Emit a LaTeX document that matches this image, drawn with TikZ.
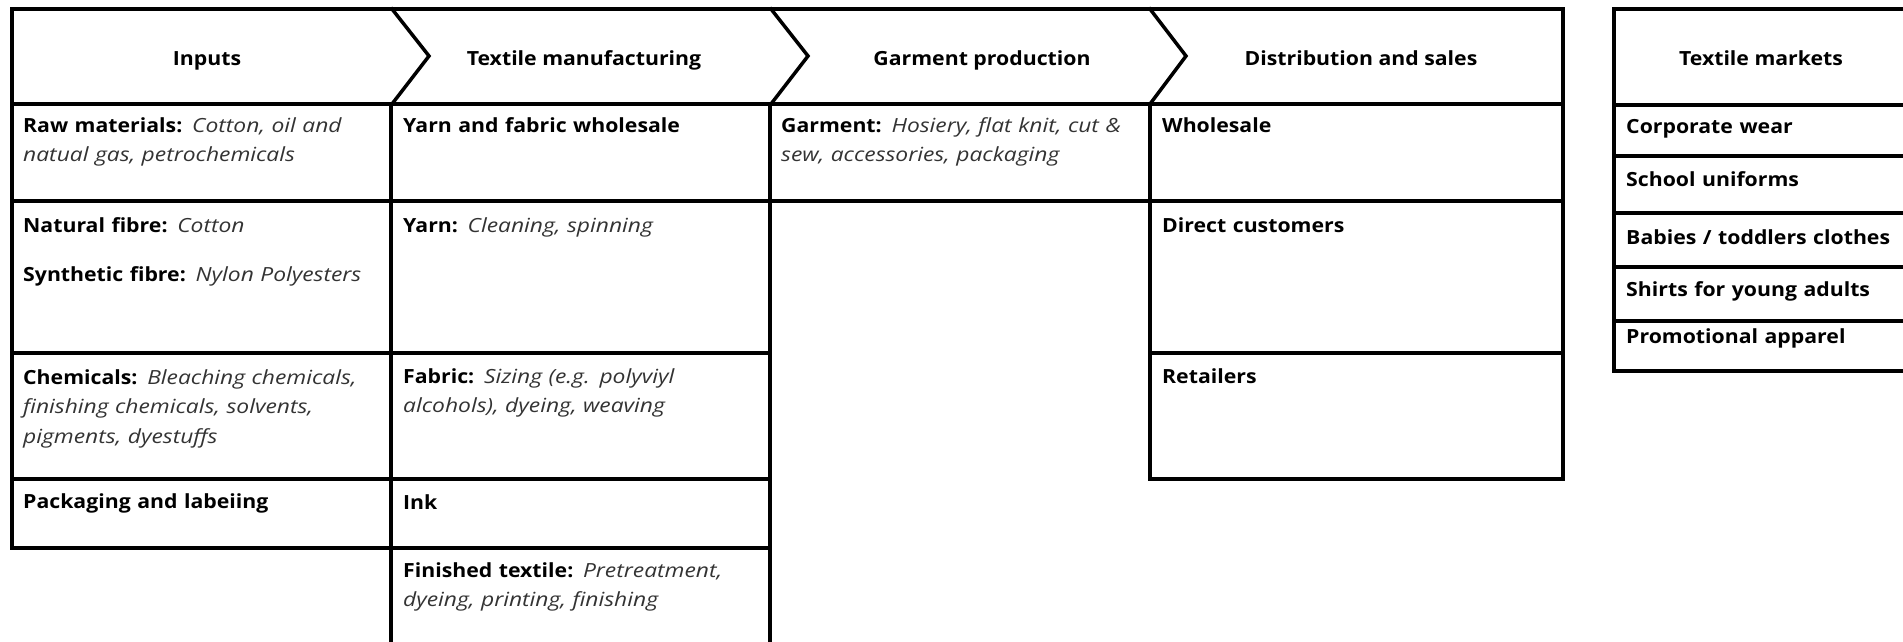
\documentclass[tikz,border=0pt]{standalone}
\usepackage{fontspec}
\setmainfont{Open Sans}[BoldFeatures={FakeStretch=1.09},ItalicFeatures={FakeStretch=1.17}]
\newcommand\fs{\fontsize{19.5}{29.5}\selectfont}
\newcommand\desc[1]{\textit{\color{black!80}#1}}
\begin{document}
\begin{tikzpicture}[x=1pt,y=-1pt,
  grid/.style={line width=3.5pt, line join=miter, line cap=rect},
  cell/.style={anchor=base west, inner sep=0pt, text width=380pt, align=left, font=\fs},
  head/.style={anchor=base, inner sep=0pt, font=\fs\bfseries}]
\useasboundingbox (0,0) rectangle (1903,642);
\clip (0,0) rectangle (1903,642);
% header band with chevrons
\draw[grid] (12,9) -- (1563,9) -- (1563,104) -- (12,104) -- cycle;
\draw[grid] (392,9) -- (429,56) -- (392,104);
\draw[grid] (771,9) -- (808,56) -- (771,104);
\draw[grid] (1150,9) -- (1186,56) -- (1150,104);
% column 1
\draw[grid] (12,104) rectangle (391,548);
\draw[grid] (12,201) -- (391,201);
\draw[grid] (12,353) -- (391,353);
\draw[grid] (12,479) -- (391,479);
% column 2
\draw[grid] (391,104) -- (391,660);
\draw[grid] (770,104) -- (770,660);
\draw[grid] (391,201) -- (770,201);
\draw[grid] (391,353) -- (770,353);
\draw[grid] (391,479) -- (770,479);
\draw[grid] (391,548) -- (770,548);
% column 3
\draw[grid] (770,201) -- (1150,201);
% column 4
\draw[grid] (1150,104) rectangle (1563,479);
\draw[grid] (1150,201) -- (1563,201);
\draw[grid] (1150,353) -- (1563,353);
% markets
\draw[grid] (1614,9) rectangle (1912,371);
\draw[grid] (1614,105) -- (1912,105);
\draw[grid] (1614,156) -- (1912,156);
\draw[grid] (1614,213) -- (1912,213);
\draw[grid] (1614,267) -- (1912,267);
\draw[grid] (1614,321) -- (1912,321);
% headers
\node[head] (hin) at (207,66) {Inputs};
\node[head] (htm) at (584,66) {Textile manufacturing};
\node[head] (hgp) at (982,66) {Garment production};
\node[head] (hds) at (1361,66) {Distribution and sales};
\node[head] (hmk) at (1761,66) {Textile markets};
% column 1 cells
\node[cell] (raw) at (23,132) {\textbf{Raw materials:} \desc{Cotton, oil and}\\\desc{natual gas, petrochemicals}};
\node[cell] (nat) at (23,232) {\textbf{Natural fibre:} \desc{Cotton}};
\node[cell] (syn) at (23,281) {\textbf{Synthetic fibre:} \desc{Nylon Polyesters}};
\node[cell] (chem) at (23,384) {\textbf{Chemicals:} \desc{Bleaching chemicals,}\\\desc{finishing chemicals, solvents,}\\\desc{pigments, dyestuffs}};
\node[cell] (pack) at (23,508) {\textbf{Packaging and labeiing}};
% column 2 cells
\node[cell] (yfw) at (403,132) {\textbf{Yarn and fabric wholesale}};
\node[cell] (yarn) at (403,232) {\textbf{Yarn:} \desc{Cleaning, spinning}};
\node[cell] (fab) at (403,383) {\textbf{Fabric:} \desc{Sizing (e.g. polyviyl}\\\desc{alcohols), dyeing, weaving}};
\node[cell] (ink) at (403,509) {\textbf{Ink}};
\node[cell] (fin) at (403,577) {\textbf{Finished textile:} \desc{Pretreatment,}\\\desc{dyeing, printing, finishing}};
% column 3 cells
\node[cell] (gar) at (781,132) {\textbf{Garment:} \desc{Hosiery, flat knit, cut \&}\\\desc{sew, accessories, packaging}};
% column 4 cells
\node[cell] (whs) at (1162,132) {\textbf{Wholesale}};
\node[cell] (dir) at (1162,232) {\textbf{Direct customers}};
\node[cell] (ret) at (1162,383) {\textbf{Retailers}};
% markets cells
\node[cell] (corp) at (1626,133) {\textbf{Corporate wear}};
\node[cell] (sch) at (1626,186) {\textbf{School uniforms}};
\node[cell] (bab) at (1626,244) {\textbf{Babies / toddlers clothes}};
\node[cell] (shi) at (1626,296) {\textbf{Shirts for young adults}};
\node[cell] (pro) at (1626,343) {\textbf{Promotional apparel}};
\end{tikzpicture}
\end{document}
